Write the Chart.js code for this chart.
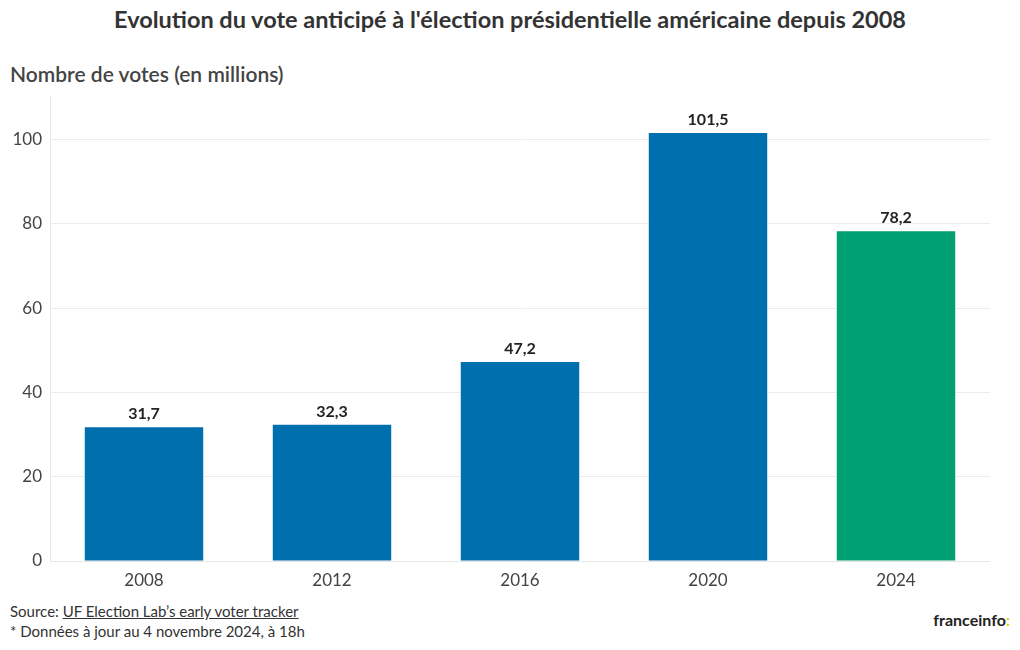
<!DOCTYPE html>
<html lang="fr">
<head>
<meta charset="utf-8">
<script src="https://cdn.jsdelivr.net/npm/chart.js@4"></script>
<style>
  body { margin: 0; background: #fff; font-family: Lato, "Open Sans", sans-serif; color: #333; }
  #page { position: relative; width: 1020px; height: 650px; overflow: hidden; }
  h1 { position: absolute; top: 5px; left: 0; width: 1020px; margin: 0; text-align: center;
       font-size: 23.5px; font-weight: 700; color: #333; }
  .ytitle { position: absolute; top: 61px; left: 10px; font-size: 21px; font-weight: 600; color: #444; }
  #wrap { position: absolute; top: 79px; left: 0; width: 990px; height: 512px; }
  .foot { position: absolute; left: 10px; top: 601px; font-size: 15px; line-height: 20px; color: #333; }
  .foot u { text-decoration: underline; }
  .logo { position: absolute; right: 10px; top: 610px; font-size: 16px; font-weight: 700; color: #222; }
  .logo span { color: #f5c800; }
</style>
</head>
<body>
<div id="page">
  <h1>Evolution du vote anticipé à l'élection présidentielle américaine depuis 2008</h1>
  <div class="ytitle">Nombre de votes (en millions)</div>
  <div id="wrap"><canvas id="chart"></canvas></div>
  <div class="foot">Source: <u>UF Election Lab’s early voter tracker</u><br>* Données à jour au 4 novembre 2024, à 18h</div>
  <div class="logo">franceinfo<span>:</span></div>
</div>
<script>
// Données (millions de votes anticipés)
const annees = ['2008', '2012', '2016', '2020', '2024'];
const votes = [31.7, 32.3, 47.2, 101.5, 78.2];
const couleurs = ['#006fae', '#006fae', '#006fae', '#006fae', '#00a073'];

// Étiquettes de valeurs au-dessus des barres
const valueLabels = {
    id: 'valueLabels',
    afterDatasetsDraw(chart) {
        const ctx = chart.ctx;
        const meta = chart.getDatasetMeta(0);
        ctx.save();
        ctx.font = 'bold 16px Lato, "Open Sans", sans-serif';
        ctx.fillStyle = '#222';
        ctx.textAlign = 'center';
        ctx.textBaseline = 'bottom';
        meta.data.forEach((bar, i) => {
            const txt = votes[i].toFixed(1).replace('.', ',');
            ctx.fillText(txt, bar.x, bar.y - 5);
        });
        ctx.restore();
    }
};

new Chart(document.getElementById('chart'), {
    type: 'bar',
    data: {
        labels: annees,
        datasets: [{
            data: votes,
            backgroundColor: couleurs,
            borderWidth: 0,
            barPercentage: 0.63,
            categoryPercentage: 1
        }]
    },
    options: {
        responsive: true,
        maintainAspectRatio: false,
        animation: false,
        layout: { padding: { top: 7, left: 0, right: 0, bottom: 0 } },
        plugins: {
            legend: { display: false },
            tooltip: { enabled: false }
        },
        scales: {
            x: {
                grid: { display: false },
                border: { color: '#e6e6e6' },
                ticks: {
                    color: '#444',
                    font: { family: 'Lato, "Open Sans", sans-serif', size: 17 },
                    padding: 1
                },
                afterFit: function(scale) { scale.height = 30; }
            },
            y: {
                min: 0,
                max: 110,
                ticks: {
                    stepSize: 20,
                    color: '#444',
                    font: { family: 'Lato, "Open Sans", sans-serif', size: 17 },
                    padding: 8,
                    callback: function(value) { return value <= 100 ? value : ''; }
                },
                grid: {
                    color: function(c) { return c.tick && c.tick.value > 100 ? 'rgba(0,0,0,0)' : '#ececec'; },
                    drawTicks: false
                },
                border: { color: '#e6e6e6' },
                afterFit: function(scale) { scale.width = 50; }
            }
        }
    },
    plugins: [valueLabels]
});
</script>
</body>
</html>
